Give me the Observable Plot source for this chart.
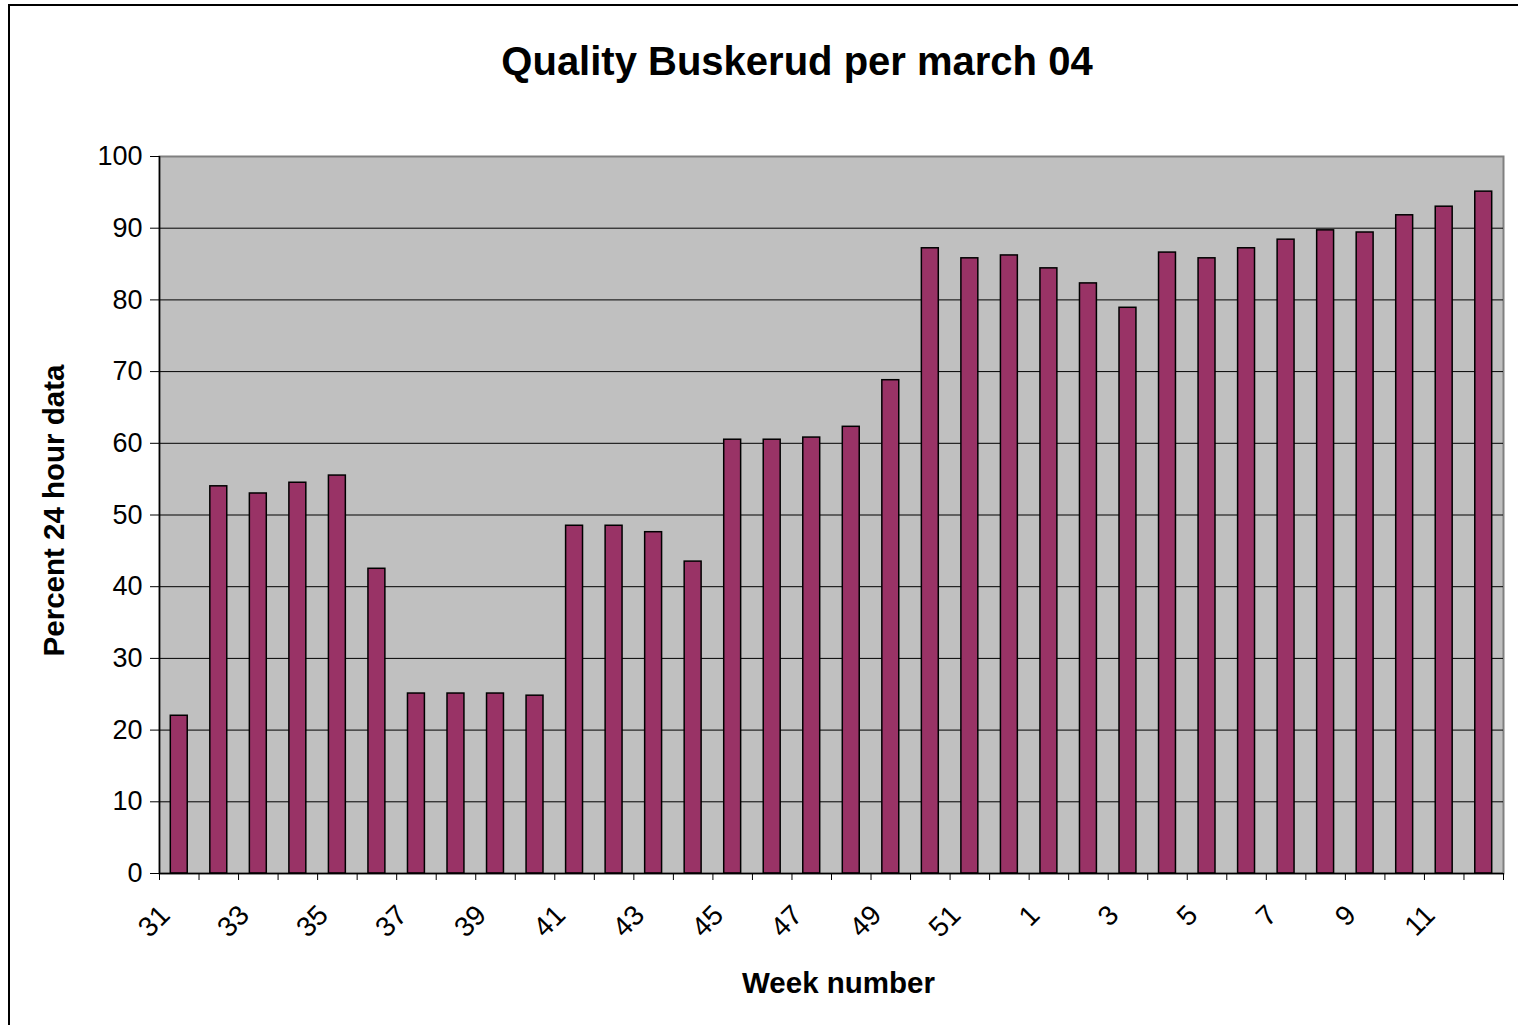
<!DOCTYPE html>
<html>
<head>
<meta charset="utf-8">
<script src="https://cdn.jsdelivr.net/npm/d3@7"></script>
<script src="https://cdn.jsdelivr.net/npm/@observablehq/plot@0.6"></script>
<style>
  html, body { margin: 0; padding: 0; background: #fff; overflow: hidden; }
  #page { position: relative; width: 1518px; height: 1025px; overflow: hidden; font-family: "Liberation Sans", Arial, sans-serif; }
  #border { position: absolute; left: 8px; top: 4px; width: 1530px; height: 1040px; border-left: 2px solid #000; border-top: 2px solid #000; z-index: 2; pointer-events: none; }
  #title { box-sizing: border-box; width: 1518px; height: 120px; padding-top: 37px; padding-left: 76px; text-align: center; font-size: 40px; line-height: 48px; font-weight: bold; color: #000; }
  #chart svg { display: block; }
</style>
</head>
<body>
<div id="page">
  <div id="border"></div>
  <div id="title">Quality Buskerud per march 04</div>
  <div id="chart"></div>
</div>
<script>
const weeks = ["31","32","33","34","35","36","37","38","39","40","41","42","43","44","45","46","47","48","49","50","51","52","1","2","3","4","5","6","7","8","9","10","11","12"];
const percent = [22.0,54.0,53.0,54.5,55.5,42.5,25.1,25.1,25.1,24.8,48.5,48.5,47.6,43.5,60.5,60.5,60.8,62.3,68.8,87.2,85.8,86.2,84.4,82.3,78.9,86.6,85.8,87.2,88.4,89.7,89.4,91.8,93.0,95.1];
const yTicks = [0,10,20,30,40,50,60,70,80,90,100];
const labeledWeeks = weeks.filter((d, i) => i % 2 === 0);
const yLabel = "Percent 24 hour data";
const xLabel = "Week number";

const data = weeks.map((w, i) => ({week: w, value: percent[i]}));

const W = 1518, H = 905, mL = 159, mR = 15, mT = 36, mB = 152;
const step = (W - mL - mR) / weeks.length;
const barInset = 11.3;

const chart = Plot.plot({
  width: W,
  height: H,
  marginLeft: mL,
  marginRight: mR,
  marginTop: mT,
  marginBottom: mB,
  style: {fontFamily: "Liberation Sans, Arial, sans-serif", color: "#000", background: "#fff", overflow: "visible"},
  x: {type: "band", domain: weeks, round: false, padding: 0, label: null},
  y: {domain: [0, 100], label: null},
  marks: [
    Plot.frame({fill: "#C0C0C0", stroke: "none"}),
    Plot.frame({stroke: "#808080", strokeWidth: 2}),
    Plot.ruleY(yTicks.filter(d => d > 0 && d < 100), {stroke: "#000", strokeWidth: 1}),
    Plot.barY(data, {x: "week", y: "value", fill: "#993366", stroke: "#000", strokeWidth: 1.5, insetLeft: barInset, insetRight: barInset}),
    Plot.ruleY([0], {stroke: "#000", strokeWidth: 1.5}),
    Plot.ruleX(weeks.slice(0, 1), {dx: -step / 2, stroke: "#000", strokeWidth: 1.5}),
    Plot.axisY({ticks: yTicks, tickSize: 9, tickPadding: 8, fontSize: 27, label: null, stroke: "#000"}),
    Plot.axisX({ticks: weeks, tickSize: 7, tickFormat: () => "", dx: -step / 2, label: null, stroke: "#000"}),
    Plot.axisX({ticks: weeks.slice(-1), tickSize: 7, tickFormat: () => "", dx: step / 2, label: null, stroke: "#000"}),
    Plot.axisX({ticks: labeledWeeks, tickSize: 0, tickRotate: -45, tickPadding: 37, dx: -14, fontSize: 28, label: null}),
    Plot.text([xLabel], {text: d => d, frameAnchor: "bottom", textAnchor: "middle", lineAnchor: "middle", dx: 7, dy: 110, fontSize: 29.5, fontWeight: "bold", fill: "#000"}),
    Plot.text([yLabel], {text: d => d, frameAnchor: "left", textAnchor: "middle", lineAnchor: "middle", rotate: -90, dx: -104.5, dy: -4.5, fontSize: 29.5, fontWeight: "bold", fill: "#000"})
  ]
});
document.getElementById("chart").appendChild(chart);
</script>
</body>
</html>
